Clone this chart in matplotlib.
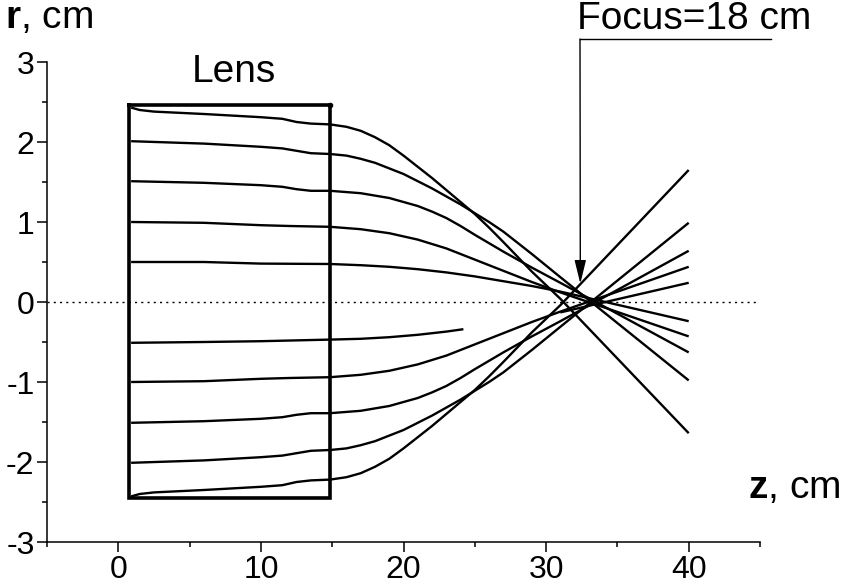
import matplotlib
matplotlib.use("Agg")
import matplotlib.pyplot as plt
from matplotlib.lines import Line2D
from matplotlib.ticker import MultipleLocator

plt.rcParams['font.family'] = ['Liberation Sans', 'DejaVu Sans']
plt.rcParams['mathtext.fontset'] = 'custom'
plt.rcParams['mathtext.rm'] = 'Liberation Sans'
plt.rcParams['mathtext.bf'] = 'Liberation Sans:bold'
plt.rcParams['axes.unicode_minus'] = False

# --- lens outline (cm)
lens_z = [0.77, 14.85]
lens_r = [-2.45, 2.46]

# --- ray trajectories: z (cm), r (cm)
z_u1 = [0.9, 1.5, 2.5, 6, 10, 11.5, 12.5, 13.5, 14.85, 16, 17, 18, 19, 20, 21, 22, 23, 24, 25, 26, 27, 29, 31, 40]
r_u1 = [2.43, 2.40, 2.38, 2.35, 2.31, 2.29, 2.25, 2.23, 2.22, 2.19, 2.14, 2.06, 1.96, 1.83, 1.69, 1.55, 1.40, 1.25, 1.10, 0.93, 0.75, 0.38, 0.04, -1.64]

z_u2 = [0.9, 6, 10, 11.5, 12.5, 13.5, 14.85, 16, 17, 18, 19, 20, 21, 22, 23, 24, 25, 26, 27, 29, 31, 40]
r_u2 = [2.01, 1.98, 1.94, 1.92, 1.89, 1.86, 1.85, 1.83, 1.79, 1.74, 1.67, 1.60, 1.51, 1.42, 1.32, 1.22, 1.11, 1.00, 0.88, 0.60, 0.31, -0.98]

z_u3 = [0.9, 6, 10, 11.5, 12.5, 13.5, 14.85, 17, 19, 20, 21, 22, 23, 24, 25, 27, 29, 31, 40]
r_u3 = [1.51, 1.49, 1.46, 1.44, 1.41, 1.39, 1.39, 1.36, 1.30, 1.25, 1.20, 1.13, 1.05, 0.95, 0.84, 0.63, 0.43, 0.24, -0.63]

z_u4 = [0.9, 6, 10, 12, 14.85, 17, 19, 21, 23, 25, 27, 29, 31, 40]
r_u4 = [1.00, 0.99, 0.96, 0.95, 0.94, 0.91, 0.86, 0.78, 0.67, 0.53, 0.39, 0.25, 0.12, -0.43]

z_u5 = [0.9, 6, 10, 14.85, 17, 19, 21, 23, 25, 27, 29, 31, 40]
r_u5 = [0.50, 0.50, 0.48, 0.475, 0.46, 0.44, 0.41, 0.37, 0.32, 0.26, 0.20, 0.13, -0.24]

z_l1 = [0.9, 1.5, 2.5, 6, 10, 11.5, 12.5, 13.5, 14.85, 16, 17, 18, 19, 20, 21, 22, 23, 24, 25, 26, 27, 29, 31, 40]
r_l1 = [-2.43, -2.40, -2.38, -2.35, -2.31, -2.29, -2.25, -2.23, -2.22, -2.19, -2.14, -2.06, -1.96, -1.83, -1.69, -1.55, -1.40, -1.25, -1.10, -0.93, -0.75, -0.38, -0.04, 1.65]

z_l2 = [0.9, 6, 10, 11.5, 12.5, 13.5, 14.85, 16, 17, 18, 19, 20, 21, 22, 23, 24, 25, 26, 27, 29, 31, 40]
r_l2 = [-2.01, -1.98, -1.94, -1.92, -1.89, -1.86, -1.85, -1.83, -1.79, -1.74, -1.67, -1.60, -1.51, -1.42, -1.32, -1.22, -1.11, -1.00, -0.88, -0.60, -0.31, 0.99]

z_l3 = [0.9, 6, 10, 11.5, 12.5, 13.5, 14.85, 17, 19, 20, 21, 22, 23, 24, 25, 27, 29, 31, 40]
r_l3 = [-1.51, -1.49, -1.46, -1.44, -1.41, -1.39, -1.39, -1.36, -1.30, -1.25, -1.20, -1.13, -1.05, -0.95, -0.84, -0.63, -0.43, -0.24, 0.64]

z_l4 = [0.9, 6, 10, 12, 14.85, 17, 19, 21, 23, 25, 27, 29, 31, 40]
r_l4 = [-1.00, -0.99, -0.96, -0.95, -0.94, -0.91, -0.86, -0.78, -0.67, -0.53, -0.39, -0.25, -0.12, 0.44]

z_l5 = [0.9, 6, 10, 14.85, 17, 19, 21, 23, 24.2]
r_l5 = [-0.51, -0.50, -0.49, -0.47, -0.46, -0.44, -0.41, -0.37, -0.34]
z_l5b = [31, 40]
r_l5b = [-0.13, 0.24]

rays = [(z_u1, r_u1), (z_u2, r_u2), (z_u3, r_u3), (z_u4, r_u4), (z_u5, r_u5),
        (z_l1, r_l1), (z_l2, r_l2), (z_l3, r_l3), (z_l4, r_l4), (z_l5, r_l5), (z_l5b, r_l5b)]

focus_z, focus_r = 32.4, 0.23

fig = plt.figure(figsize=(8.42, 5.87), dpi=100)
ax = fig.add_axes([47/842, 1 - 542/587, (760 - 47)/842, (542 - 62)/587])

ax.axhline(0, color='k', lw=1.0, ls=(0, (1.5, 3)))

for z, r in rays:
    ax.plot(z, r, color='k', lw=1.7, solid_capstyle='butt', solid_joinstyle='round')

ax.plot([lens_z[0], lens_z[1], lens_z[1], lens_z[0], lens_z[0]],
        [lens_r[1], lens_r[1], lens_r[0], lens_r[0], lens_r[1]],
        color='k', lw=2.6, solid_joinstyle='miter')
ax.plot([lens_z[1]], [lens_r[1]], 'o', color='k', ms=3)

ax.set_xlim(-5, 45)
ax.set_ylim(-3, 3)
ax.xaxis.set_major_locator(MultipleLocator(10))
ax.xaxis.set_minor_locator(MultipleLocator(5))
ax.yaxis.set_major_locator(MultipleLocator(1))
ax.yaxis.set_minor_locator(MultipleLocator(0.5))
for s in ['top', 'right']:
    ax.spines[s].set_visible(False)
for s in ['left', 'bottom']:
    ax.spines[s].set_linewidth(1.1)
ax.tick_params(which='major', direction='out', length=7, width=1.1, labelsize=23, pad=2)
ax.tick_params(which='minor', direction='out', length=3.5, width=1.1)

ax.text(8.1, 2.88, 'Lens', fontsize=28, ha='center', va='center')

fig.text(5/842, 1 - 18/587, r'$\mathbf{r}$, cm', fontsize=28, va='center', ha='left')
fig.text(840/842, 1 - 488/587, r'$\mathbf{z}$, cm', fontsize=28, va='center', ha='right')

fig.text(577/842, 1 - 19/587, 'Focus=18 cm', fontsize=28, va='center', ha='left')
fig.add_artist(Line2D([580/842, 771/842], [1 - 39/587, 1 - 39/587], color='k', lw=1.0,
                      transform=fig.transFigure))
ax.annotate('', xy=(focus_z, focus_r), xytext=(580/842, 1 - 39/587), textcoords='figure fraction',
            arrowprops=dict(arrowstyle='-|>,head_length=0.9,head_width=0.22', color='k', lw=1.0,
                            shrinkA=0, shrinkB=0, mutation_scale=16))

fig.savefig('out.png', dpi=100)
